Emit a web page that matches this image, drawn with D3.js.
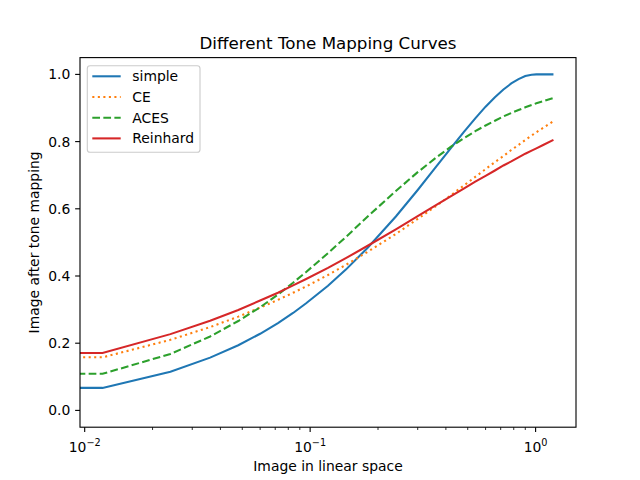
<!DOCTYPE html>
<html>
<head>
<meta charset="utf-8">
<script src="https://cdn.jsdelivr.net/npm/d3@7"></script>
<style>
  body { margin: 0; background: #fff; }
  svg { display: block; font-family: "DejaVu Sans", sans-serif; }
</style>
</head>
<body>
<svg width="640" height="480"></svg>
<script>
const width = 640;
const height = 480;

// values
const xValues = [0, 0.012, 0.024, 0.036, 0.048, 0.06, 0.072, 0.084, 0.096, 0.12, 0.144, 0.18,
    0.24, 0.3, 0.36, 0.42, 0.48, 0.54, 0.6, 0.66, 0.72, 0.78, 0.84, 0.9, 0.96, 1.008, 1.08, 1.2];
const simpleValues = [0, 0.067, 0.115, 0.157, 0.194, 0.228, 0.260, 0.290, 0.319, 0.371, 0.419, 0.484,
    0.577, 0.656, 0.723, 0.780, 0.828, 0.869, 0.904, 0.932, 0.955, 0.973, 0.986, 0.995, 0.999, 1.0, 1.0, 1.0];
const ceValues = [0, 0.158, 0.210, 0.248, 0.279, 0.306, 0.329, 0.350, 0.369, 0.403, 0.433, 0.472,
    0.525, 0.570, 0.607, 0.640, 0.669, 0.695, 0.718, 0.739, 0.757, 0.775, 0.790, 0.805, 0.818, 0.828, 0.841, 0.861];
const acesValues = [0, 0.109, 0.168, 0.220, 0.266, 0.307, 0.345, 0.380, 0.412, 0.468, 0.516, 0.577,
    0.653, 0.709, 0.751, 0.784, 0.810, 0.831, 0.848, 0.862, 0.875, 0.885, 0.894, 0.902, 0.909, 0.914, 0.920, 0.930];
const reinhardValues = [0, 0.171, 0.227, 0.267, 0.299, 0.327, 0.350, 0.372, 0.391, 0.424, 0.453, 0.490,
    0.539, 0.578, 0.610, 0.637, 0.660, 0.681, 0.698, 0.714, 0.729, 0.741, 0.753, 0.764, 0.773, 0.780, 0.790, 0.805];

const seriesNames = ["simple", "CE", "ACES", "Reinhard"];
const seriesValues = [simpleValues, ceValues, acesValues, reinhardValues];
const colors = ["#1f77b4", "#ff7f0e", "#2ca02c", "#d62728"];
const dashes = [null, "2.08,3.44", "7.71,3.33", null];

const yTicks = [0, 0.2, 0.4, 0.6, 0.8, 1.0];
const xMajorTicks = [0.01, 0.1, 1];
const xTickExps = ["\u22122", "\u22121", "0"];

const margin = { left: 80, right: 576, top: 57.6, bottom: 427.2 };

const svg = d3.select("svg");

// log axis padded like matplotlib: 5% of the log span on each side
const x = d3.scaleLog()
    .domain([Math.pow(10, -2.0208), Math.pow(10, 0.1792)])
    .range([margin.left, margin.right]);

const y = d3.scaleLinear()
    .domain([-0.05, 1.05])
    .range([margin.bottom, margin.top]);

svg.append("defs").append("clipPath").attr("id", "plot-clip")
    .append("rect")
    .attr("x", margin.left).attr("y", margin.top)
    .attr("width", margin.right - margin.left)
    .attr("height", margin.bottom - margin.top);

// curves, x = 0 clipped to a tiny positive value the way matplotlib does
const line = d3.line()
    .x(d => x(Math.max(d[0], 1e-300)))
    .y(d => y(d[1]));

const plot = svg.append("g").attr("clip-path", "url(#plot-clip)");
seriesValues.forEach((vals, i) => {
    plot.append("path")
        .datum(xValues.map((xv, j) => [xv, vals[j]]))
        .attr("d", line)
        .attr("fill", "none")
        .attr("stroke", colors[i])
        .attr("stroke-width", 2.08)
        .attr("stroke-dasharray", dashes[i]);
});

// frame
svg.append("rect")
    .attr("x", margin.left).attr("y", margin.top)
    .attr("width", margin.right - margin.left)
    .attr("height", margin.bottom - margin.top)
    .attr("fill", "none")
    .attr("stroke", "#000")
    .attr("stroke-width", 1.11);

// y axis
const yAxis = svg.append("g");
yTicks.forEach(t => {
    yAxis.append("line")
        .attr("x1", margin.left - 4.86).attr("x2", margin.left)
        .attr("y1", y(t)).attr("y2", y(t))
        .attr("stroke", "#000").attr("stroke-width", 1.11);
    yAxis.append("text")
        .attr("x", margin.left - 9.7)
        .attr("y", y(t))
        .attr("dy", "0.36em")
        .attr("text-anchor", "end")
        .attr("font-size", 13.9)
        .text(t.toFixed(1));
});

// x axis: minor ticks
const xAxis = svg.append("g");
const minorTicks = [];
[0.01, 0.1, 1].forEach(base => {
    for (let k = 2; k <= 9; k++) {
        const v = base * k;
        if (v >= x.domain()[0] && v <= x.domain()[1]) minorTicks.push(v);
    }
});
minorTicks.forEach(t => {
    xAxis.append("line")
        .attr("x1", x(t)).attr("x2", x(t))
        .attr("y1", margin.bottom).attr("y2", margin.bottom + 2.78)
        .attr("stroke", "#000").attr("stroke-width", 0.83);
});
xMajorTicks.forEach((t, i) => {
    xAxis.append("line")
        .attr("x1", x(t)).attr("x2", x(t))
        .attr("y1", margin.bottom).attr("y2", margin.bottom + 4.86)
        .attr("stroke", "#000").attr("stroke-width", 1.11);
    const label = xAxis.append("text")
        .attr("x", x(t))
        .attr("y", 451.7)
        .attr("text-anchor", "middle")
        .attr("font-size", 13.9);
    label.append("tspan").text("10");
    label.append("tspan")
        .attr("dy", -6)
        .attr("font-size", 9.7)
        .text(xTickExps[i]);
});

// labels and title
svg.append("text")
    .attr("x", (margin.left + margin.right) / 2)
    .attr("y", 471)
    .attr("text-anchor", "middle")
    .attr("font-size", 13.9)
    .text("Image in linear space");

svg.append("text")
    .attr("transform", `translate(38.5,${(margin.top + margin.bottom) / 2}) rotate(-90)`)
    .attr("text-anchor", "middle")
    .attr("font-size", 13.9)
    .text("Image after tone mapping");

svg.append("text")
    .attr("x", (margin.left + margin.right) / 2)
    .attr("y", 49.3)
    .attr("text-anchor", "middle")
    .attr("font-size", 16.7)
    .text("Different Tone Mapping Curves");

// legend
const legend = svg.append("g");
legend.append("rect")
    .attr("x", 87.3).attr("y", 65.7)
    .attr("width", 112.7).attr("height", 86.6)
    .attr("rx", 2.8)
    .attr("fill", "#fff").attr("fill-opacity", 0.8)
    .attr("stroke", "#cccccc").attr("stroke-width", 1.11);
seriesNames.forEach((name, i) => {
    const cy = 76.3 + i * 20.7;
    legend.append("line")
        .attr("x1", 92.3).attr("x2", 120.7)
        .attr("y1", cy).attr("y2", cy)
        .attr("stroke", colors[i])
        .attr("stroke-width", 2.08)
        .attr("stroke-dasharray", dashes[i]);
    legend.append("text")
        .attr("x", 132.3)
        .attr("y", cy)
        .attr("dy", "0.36em")
        .attr("font-size", 13.9)
        .text(name);
});
</script>
</body>
</html>
